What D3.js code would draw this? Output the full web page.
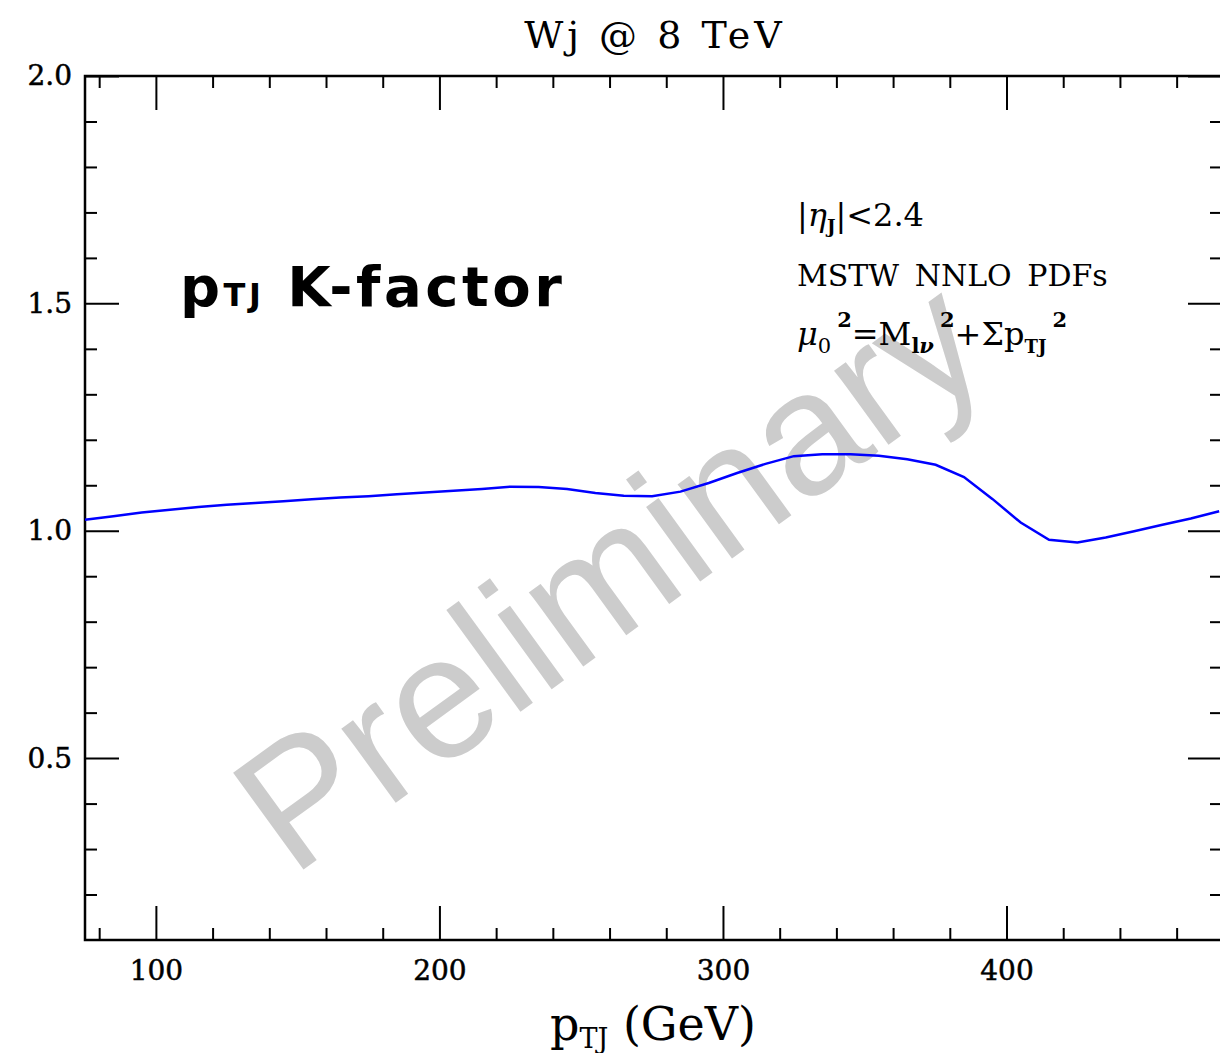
<!DOCTYPE html>
<html>
<head>
<meta charset="utf-8">
<script src="https://cdn.jsdelivr.net/npm/d3@7"></script>
<style>
  body { margin: 0; background: #fff; }
  svg { display: block; }
  .serif { font-family: "DejaVu Serif", serif; }
</style>
</head>
<body>
<script>
// K-factor, 10 GeV steps
var ptj = [75, 85, 95, 105, 115, 125, 135, 145, 155, 165, 175, 185, 195, 205, 215,
           225, 235, 245, 255, 265, 275, 285, 295, 305, 315, 325, 335, 345, 355, 365,
           375, 385, 395, 405, 415, 425, 435, 445, 455, 465, 475];
var kfac = [1.024, 1.032, 1.040, 1.046, 1.052, 1.057, 1.061, 1.065, 1.069, 1.073, 1.076,
            1.080, 1.084, 1.088, 1.092, 1.097, 1.096, 1.092, 1.083, 1.077, 1.076, 1.086,
            1.105, 1.127, 1.147, 1.164, 1.168, 1.168, 1.165, 1.157, 1.145, 1.118, 1.070,
            1.018, 0.980, 0.974, 0.985, 0.999, 1.013, 1.027, 1.043];

var xMajor = [100, 200, 300, 400];
var xMinor = [80, 120, 140, 160, 180, 220, 240, 260, 280, 320, 340, 360, 380, 420, 440, 460];
var yMajor = [0.5, 1.0, 1.5, 2.0];
var yMinor = [0.2, 0.3, 0.4, 0.6, 0.7, 0.8, 0.9, 1.1, 1.2, 1.3, 1.4, 1.6, 1.7, 1.8, 1.9];

(function() {
    var data = ptj.map(function(p, i) { return {x: p, y: kfac[i]}; });

    var W = 1220, H = 1053;
    var pLeft = 85, pTop = 76, pRight = 1222, pBottom = 940;

    var svg = d3.select("body").append("svg")
        .attr("width", W)
        .attr("height", H);

    var x = d3.scaleLinear().domain([75, 476]).range([pLeft, pRight]);
    var y = d3.scaleLinear().domain([0.1, 2.0]).range([pBottom, pTop]);

    // watermark first so the curve sits on top
    svg.append("text")
        .attr("transform", "translate(292,878) rotate(-36)")
        .style("font-family", "'Liberation Sans', Arial, sans-serif")
        .style("font-size", "174px")
        .style("fill", "#cccccc")
        .text("Preliminary");

    // ticks (all pointing inward)
    function styleAxis(g) {
        g.select(".domain").remove();
        g.selectAll("line").style("stroke", "#000").style("stroke-width", 2);
        g.selectAll("text").attr("class", "serif").style("font-size", "28px")
            .style("fill", "#000").style("stroke", "#000").style("stroke-width", 0.5);
    }

    svg.append("g").attr("transform", "translate(0," + pBottom + ")")
        .call(d3.axisBottom(x).tickValues(xMajor).tickSize(-34).tickPadding(20).tickFormat(d3.format("d")))
        .call(styleAxis);
    svg.append("g").attr("transform", "translate(0," + pBottom + ")")
        .call(d3.axisBottom(x).tickValues(xMinor).tickSize(-12).tickFormat(""))
        .call(styleAxis);
    svg.append("g").attr("transform", "translate(0," + pTop + ")")
        .call(d3.axisTop(x).tickValues(xMajor).tickSize(-34).tickFormat(""))
        .call(styleAxis);
    svg.append("g").attr("transform", "translate(0," + pTop + ")")
        .call(d3.axisTop(x).tickValues(xMinor).tickSize(-12).tickFormat(""))
        .call(styleAxis);

    svg.append("g").attr("transform", "translate(" + pLeft + ",0)")
        .call(d3.axisLeft(y).tickValues(yMajor).tickSize(-34).tickPadding(13).tickFormat(d3.format(".1f")))
        .call(styleAxis);
    svg.append("g").attr("transform", "translate(" + pLeft + ",0)")
        .call(d3.axisLeft(y).tickValues(yMinor).tickSize(-12).tickFormat(""))
        .call(styleAxis);
    svg.append("g").attr("transform", "translate(" + pRight + ",0)")
        .call(d3.axisRight(y).tickValues(yMajor).tickSize(-34).tickFormat(""))
        .call(styleAxis);
    svg.append("g").attr("transform", "translate(" + pRight + ",0)")
        .call(d3.axisRight(y).tickValues(yMinor).tickSize(-12).tickFormat(""))
        .call(styleAxis);

    // frame
    svg.append("rect")
        .attr("x", pLeft).attr("y", pTop)
        .attr("width", pRight - pLeft).attr("height", pBottom - pTop)
        .style("fill", "none").style("stroke", "#000").style("stroke-width", 2.5);

    // curve
    var line = d3.line()
        .x(function(d) { return x(d.x); })
        .y(function(d) { return y(d.y); });

    svg.append("path")
        .datum(data)
        .attr("d", line)
        .style("fill", "none")
        .style("stroke", "#0000ff")
        .style("stroke-width", 2.5);

    // title
    svg.append("text")
        .attr("class", "serif")
        .attr("x", 655).attr("y", 48)
        .attr("text-anchor", "middle")
        .style("font-size", "38px")
        .style("letter-spacing", "4px")
        .text("Wj @ 8 TeV");

    // x axis label
    var xl = svg.append("text")
        .attr("class", "serif")
        .attr("x", 653).attr("y", 1040)
        .attr("text-anchor", "middle")
        .style("font-size", "46px");
    xl.append("tspan").text("p");
    xl.append("tspan").attr("dy", 8).style("font-size", "27px").text("TJ");
    xl.append("tspan").attr("dy", -8).text(" (GeV)");

    // big label
    var big = svg.append("text")
        .attr("x", 180).attr("y", 306)
        .style("font-family", "'DejaVu Sans', sans-serif")
        .style("font-weight", "bold")
        .style("font-size", "56px")
        .style("letter-spacing", "3.5px");
    big.append("tspan").text("p");
    big.append("tspan").style("font-size", "32px").attr("dx", 0).text("TJ");
    big.append("tspan").text(" K-factor");

    // cuts / settings
    var fs = 30;
    var l1 = svg.append("text").attr("class", "serif")
        .attr("x", 797).attr("y", 226).style("font-size", "32px");
    l1.append("tspan").text("|");
    l1.append("tspan").style("font-style", "italic").text("η");
    l1.append("tspan").attr("dy", 7).style("font-size", "18px").style("font-weight", "bold").text("J");
    l1.append("tspan").attr("dy", -7).text("|<2.4");

    svg.append("text").attr("class", "serif")
        .attr("x", 797).attr("y", 286).style("font-size", fs + "px")
        .style("word-spacing", "6px")
        .text("MSTW NNLO PDFs");

    var l3 = svg.append("text").attr("class", "serif")
        .attr("x", 797).attr("y", 345).style("font-size", "32px");
    l3.append("tspan").style("font-style", "italic").text("μ");
    l3.append("tspan").attr("dy", 8).style("font-size", "21px").text("0");
    l3.append("tspan").attr("dy", -26).attr("dx", 6).style("font-size", "21px").style("font-weight", "bold").text("2");
    l3.append("tspan").attr("dy", 18).text("=M");
    l3.append("tspan").attr("dy", 8).style("font-size", "21px").style("font-weight", "bold").text("l");
    l3.append("tspan").style("font-size", "21px").style("font-style", "italic").style("font-weight", "bold").text("ν");
    l3.append("tspan").attr("dy", -26).attr("dx", 6).style("font-size", "21px").style("font-weight", "bold").text("2");
    l3.append("tspan").attr("dy", 18).text("+Σp");
    l3.append("tspan").attr("dy", 8).style("font-size", "18px").style("font-weight", "bold").text("TJ");
    l3.append("tspan").attr("dy", -26).attr("dx", 6).style("font-size", "21px").style("font-weight", "bold").text("2");
})();
</script>
</body>
</html>
